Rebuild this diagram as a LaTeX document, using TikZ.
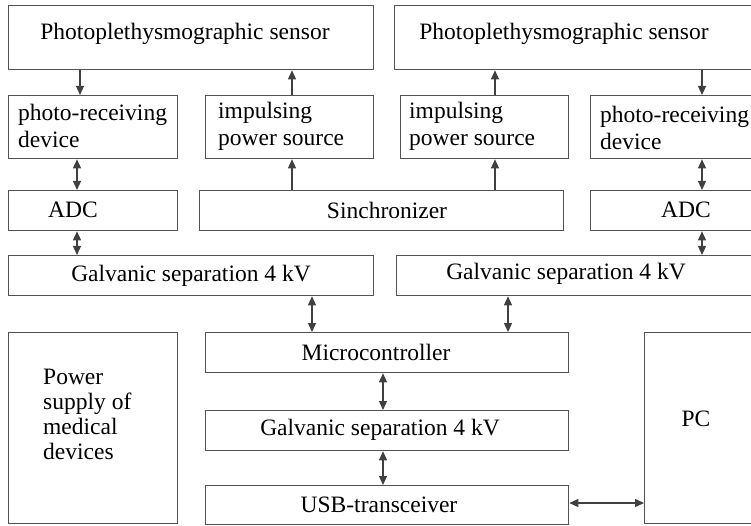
\documentclass[tikz,border=0pt]{standalone}
\usepackage{fontspec}
\setmainfont{Liberation Serif}
\usetikzlibrary{arrows.meta}
\begin{document}
\begin{tikzpicture}[x=1pt,y=-1pt,
  box/.style={draw=black!68, line width=1.3pt, fill=white, inner sep=0pt, anchor=north west},
  txt/.style={inner sep=0pt, font=\fontsize{23.5}{26.5}\selectfont, text=black},
  ltxt/.style={txt, anchor=north west, align=left},
  arr/.style={draw=black!75, line width=1.3pt, -{Triangle[length=9pt,width=8pt]}},
  barr/.style={draw=black!75, line width=1.3pt, {Triangle[length=9pt,width=8pt]}-{Triangle[length=9pt,width=8pt]}}]
\useasboundingbox (0,0) rectangle (751,526);
\clip (0,0) rectangle (751,526);
% boxes
\node[box, minimum width=365pt, minimum height=64pt] (s1) at (8,5) {};
\node[box, minimum width=370pt, minimum height=64pt] (s2) at (394,5) {};
\node[box, minimum width=169pt, minimum height=63pt] (pr1) at (8,95) {};
\node[box, minimum width=168pt, minimum height=63pt] (ip1) at (205,95) {};
\node[box, minimum width=168pt, minimum height=63pt] (ip2) at (400,95) {};
\node[box, minimum width=175pt, minimum height=63pt] (pr2) at (590,95) {};
\node[box, minimum width=169pt, minimum height=40pt] (adc1) at (8,190) {};
\node[box, minimum width=364pt, minimum height=40pt] (syn) at (199,190) {};
\node[box, minimum width=175pt, minimum height=40pt] (adc2) at (590,190) {};
\node[box, minimum width=365pt, minimum height=40pt] (g1) at (8,255) {};
\node[box, minimum width=370pt, minimum height=40pt] (g2) at (396,255) {};
\node[box, minimum width=169pt, minimum height=191pt] (pw) at (8,332) {};
\node[box, minimum width=363pt, minimum height=40pt] (mc) at (205,332) {};
\node[box, minimum width=363pt, minimum height=40pt] (g3) at (205,410) {};
\node[box, minimum width=363pt, minimum height=39pt] (usb) at (205,485) {};
\node[box, minimum width=120pt, minimum height=191pt] (pc) at (644,332) {};
% texts
\node[txt] (ts1) at (185,34) {Photoplethysmographic sensor};
\node[txt] (ts2) at (564,34) {Photoplethysmographic sensor};
\node[ltxt] (tpr1) at (18,104) {photo-receiving\\device};
\node[ltxt] (tip1) at (218,102) {impulsing\\power source};
\node[ltxt] (tip2) at (409,102) {impulsing\\power source};
\node[ltxt] (tpr2) at (600,106) {photo-receiving\\device};
\node[txt] (tadc1) at (73,210) {ADC};
\node[txt] (tsyn) at (387,210) {Sinchronizer};
\node[txt] (tadc2) at (686,210) {ADC};
\node[txt] (tg1) at (191,276) {Galvanic separation 4 kV};
\node[txt] (tg2) at (566,274) {Galvanic separation 4 kV};
\node[ltxt, font=\fontsize{23.5}{25}\selectfont] (tpw) at (43,369) {Power\\supply of\\medical\\devices};
\node[txt] (tmc) at (376,352) {Microcontroller};
\node[txt] (tg3) at (380,430) {Galvanic separation 4 kV};
\node[txt] (tusb) at (379,505) {USB-transceiver};
\node[txt] (tpc) at (696,419) {PC};
% connectors
\draw[arr] (s1.south -| 80,0) -- (pr1.north -| 80,0);
\draw[arr] (ip1.north -| 292,0) -- (s1.south -| 292,0);
\draw[arr] (syn.north -| 292,0) -- (ip1.south -| 292,0);
\draw[barr] (pr1.south -| 77,0) -- (adc1.north -| 77,0);
\draw[barr] (adc1.south -| 77,0) -- (g1.north -| 77,0);
\draw[arr] (ip2.north -| 495,0) -- (s2.south -| 495,0);
\draw[arr] (syn.north -| 495,0) -- (ip2.south -| 495,0);
\draw[arr] (s2.south -| 702,0) -- (pr2.north -| 702,0);
\draw[barr] (pr2.south -| 702,0) -- (adc2.north -| 702,0);
\draw[barr] (adc2.south -| 702,0) -- (g2.north -| 702,0);
\draw[barr] (g1.south -| 312,0) -- (mc.north -| 312,0);
\draw[barr] (g2.south -| 508,0) -- (mc.north -| 508,0);
\draw[barr] (mc.south -| 383,0) -- (g3.north -| 383,0);
\draw[barr] (g3.south -| 383,0) -- (usb.north -| 383,0);
\draw[barr] (usb.east |- 0,503) -- (pc.west |- 0,503);
\end{tikzpicture}
\end{document}
